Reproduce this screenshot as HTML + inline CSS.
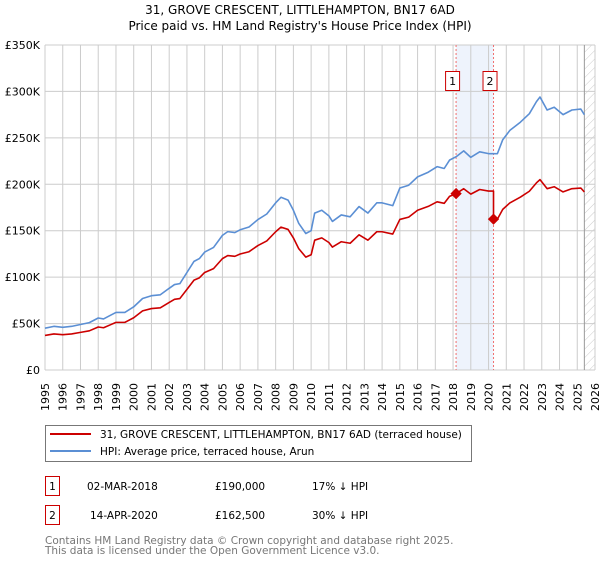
<!DOCTYPE html>
<html><head><meta charset="utf-8"><style>
body{margin:0;background:#fff;font-family:"DejaVu Sans","Liberation Sans",sans-serif;}
svg text{font-family:"DejaVu Sans","Liberation Sans",sans-serif;}
</style></head><body>
<svg width="600" height="560" xmlns="http://www.w3.org/2000/svg">
<defs><pattern id="hatch" width="6" height="6" patternUnits="userSpaceOnUse" patternTransform="rotate(45)"><line x1="0" y1="0" x2="0" y2="6" stroke="#ccc" stroke-width="1"/></pattern></defs>
<text x="300" y="14" text-anchor="middle" font-size="12">31, GROVE CRESCENT, LITTLEHAMPTON, BN17 6AD</text>
<text x="300" y="30" text-anchor="middle" font-size="12">Price paid vs. HM Land Registry's House Price Index (HPI)</text>
<g id="plot"></g>
<g>
<rect x="45.5" y="425.5" width="426" height="36" fill="#fff" stroke="#777"/>
<line x1="50" y1="434" x2="91" y2="434" stroke="#cc0000" stroke-width="2"/>
<text x="100" y="438" font-size="10.5">31, GROVE CRESCENT, LITTLEHAMPTON, BN17 6AD (terraced house)</text>
<line x1="50" y1="451" x2="91" y2="451" stroke="#5b8fd4" stroke-width="2"/>
<text x="100" y="455" font-size="10.5">HPI: Average price, terraced house, Arun</text>
</g>
<g font-size="10.5">
<rect x="45.5" y="476.5" width="14" height="19" fill="#fff" stroke="#cc0000"/>
<text x="52.5" y="490" text-anchor="middle">1</text>
<text x="87" y="490">02-MAR-2018</text><text x="215" y="490">£190,000</text><text x="312" y="490">17% ↓ HPI</text>
<rect x="45.5" y="505.5" width="14" height="19" fill="#fff" stroke="#cc0000"/>
<text x="52.5" y="519" text-anchor="middle">2</text>
<text x="90" y="519">14-APR-2020</text><text x="215" y="519">£162,500</text><text x="312" y="519">30% ↓ HPI</text>
</g>
<text x="45" y="544" font-size="10.5" fill="#777">Contains HM Land Registry data © Crown copyright and database right 2025.</text>
<text x="45" y="554" font-size="10.5" fill="#777">This data is licensed under the Open Government Licence v3.0.</text>
</svg>
<script>
const hpiYears=[1995,1995.5,1996,1996.5,1997,1997.5,1998,1998.3,1998.7,1999,1999.5,2000,2000.5,2001,2001.5,2002,2002.3,2002.6,2003,2003.4,2003.7,2004,2004.5,2005,2005.3,2005.7,2006,2006.5,2007,2007.5,2008,2008.3,2008.7,2009,2009.3,2009.7,2010,2010.2,2010.6,2011.0,2011.2,2011.7,2012.2,2012.7,2013.2,2013.7,2014.0,2014.6,2015,2015.5,2016,2016.6,2017.1,2017.5,2017.8,2018.2,2018.6,2019,2019.5,2020,2020.5,2020.8,2021.2,2021.8,2022.3,2022.7,2022.9,2023.3,2023.7,2024.2,2024.7,2025.2,2025.4];
const hpiValues=[45,47,46,47,49,51,56,55,59,62,62,68,77,80,81,88,92,93,105,117,120,127,132,145,149,148,151,154,162,168,180,186,183,172,158,147,150,169,172,166,160,167,165,176,169,180,180,177,196,199,208,213,219,217,226,230,236,229,235,233,233,248,258,267,276,289,294,280,283,275,280,281,275];
const saleYears=[2018.17,2020.28];
const salePrices=[190,162.5];
const saleLabels=["1","2"];
const yTicks=[0,50,100,150,200,250,300,350];
const yTickLabels=["£0","£50K","£100K","£150K","£200K","£250K","£300K","£350K"];
const xTicks=[1995,1996,1997,1998,1999,2000,2001,2002,2003,2004,2005,2006,2007,2008,2009,2010,2011,2012,2013,2014,2015,2016,2017,2018,2019,2020,2021,2022,2023,2024,2025,2026];
const dataEnd=2025.4;

const X0=45,X1=595,Y0=370,Y1=45;
const x=t=>X0+(t-1995)/(2026-1995)*(X1-X0);
const y=v=>Y0-v/350*(Y0-Y1);
const NS="http://www.w3.org/2000/svg";
const g=document.getElementById('plot');
function mk(tag,attrs,parent){const e=document.createElementNS(NS,tag);for(const k in attrs)e.setAttribute(k,attrs[k]);(parent||g).appendChild(e);return e;}
function hpiAt(t){for(let i=0;i<hpiYears.length-1;i++){if(t<=hpiYears[i+1]){const f=(t-hpiYears[i])/(hpiYears[i+1]-hpiYears[i]);return hpiValues[i]+f*(hpiValues[i+1]-hpiValues[i]);}}return hpiValues[hpiValues.length-1];}
// shaded region
let r=mk('rect',{x:x(saleYears[0]),y:Y1,width:x(saleYears[1])-x(saleYears[0]),height:Y0-Y1,fill:'#eef3fc'});


// grid
xTicks.forEach(t=>{const l=mk('line',{x1:x(t),x2:x(t),y1:Y1,y2:Y0,stroke:'#ccc'});


const tx=mk('text',{x:x(t)+4,y:383,'font-size':11,'text-anchor':'end',transform:`rotate(-90 ${x(t)+4} 383)`});tx.textContent=t;

});
yTicks.forEach((v,i)=>{const l=mk('line',{x1:X0,x2:X1,y1:y(v),y2:y(v),stroke:'#ccc'});


const tx=mk('text',{x:40,y:y(v)+4,'font-size':11,'text-anchor':'end'});tx.textContent=yTickLabels[i];

});
// hatch
let h=mk('rect',{x:x(dataEnd),y:Y1,width:X1-x(dataEnd),height:Y0-Y1,fill:'url(#hatch)'});


let hl=mk('line',{x1:x(dataEnd),x2:x(dataEnd),y1:Y1,y2:Y0,stroke:'#999'});


// sale lines
saleYears.forEach((s,i)=>{const l=mk('line',{x1:x(s),x2:x(s),y1:Y1,y2:Y0,stroke:'#f07070','stroke-dasharray':'2,2'});


const b=mk('rect',{x:x(s)-10.5,y:71.5,width:14,height:19,fill:'#fff',stroke:'#cc0000'});


const t=mk('text',{x:x(s)-3.5,y:85,'font-size':11,'text-anchor':'middle'});t.textContent=saleLabels[i];

});
// hpi line
let hp=mk('polyline',{points:hpiYears.map((t,i)=>x(t)+','+y(hpiValues[i])).join(' '),fill:'none',stroke:'#5b8fd4','stroke-width':1.6,'stroke-linejoin':'round'});


// property line: indexed from HPI at each sale
const r1=salePrices[0]/hpiAt(saleYears[0]),r2=salePrices[1]/hpiAt(saleYears[1]);
const pts=[];
hpiYears.forEach((t,i)=>{if(t<saleYears[1])pts.push([t,hpiValues[i]*r1]);});
pts.push([saleYears[1],hpiAt(saleYears[1])*r1]);
pts.push([saleYears[1],salePrices[1]]);
hpiYears.forEach((t,i)=>{if(t>saleYears[1])pts.push([t,hpiValues[i]*r2]);});
let pl=mk('polyline',{points:pts.map(p=>x(p[0])+','+y(p[1])).join(' '),fill:'none',stroke:'#cc0000','stroke-width':1.6,'stroke-linejoin':'round'});


saleYears.forEach((s,i)=>{const d=mk('rect',{x:x(s)-4,y:y(salePrices[i])-4,width:8,height:8,fill:'#cc0000',transform:`rotate(45 ${x(s)} ${y(salePrices[i])})`});

});
</script>
</body></html>
